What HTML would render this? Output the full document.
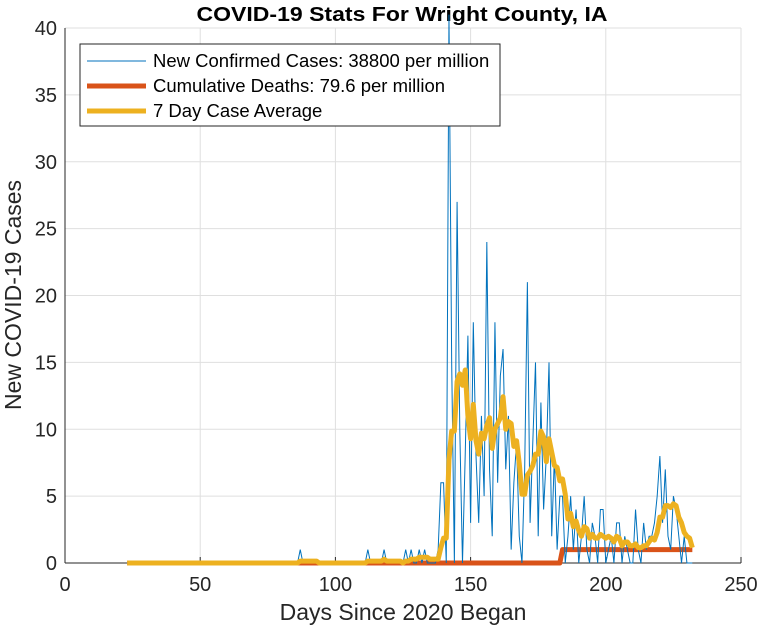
<!DOCTYPE html>
<html><head><meta charset="utf-8"><style>
body{margin:0;background:#fff;}
svg{display:block;font-family:"Liberation Sans",Arial,sans-serif;}
</style></head><body>
<svg id="chart" width="761" height="630">
<rect width="761" height="630" fill="#fff"/>
<text x="402" y="21" text-anchor="middle" font-size="20" font-weight="bold" fill="#000" textLength="411" lengthAdjust="spacingAndGlyphs">COVID-19 Stats For Wright County, IA</text>
<g id="grid"></g>
<g id="axes"></g>
<g id="series"></g>
<text x="403" y="620" text-anchor="middle" font-size="23" fill="#262626">Days Since 2020 Began</text>
<text transform="translate(21,295) rotate(-90)" text-anchor="middle" font-size="23" fill="#262626">New COVID-19 Cases</text>
<g>
<rect x="80" y="44" width="420" height="82" fill="#fff" stroke="#262626" stroke-width="1"/>
<g><line x1="87" y1="61" x2="146" y2="61" stroke="#0072BD" stroke-width="1"/><text x="153" y="67" font-size="18.5" fill="#000">New Confirmed Cases: 38800 per million</text></g>
<g><line x1="87" y1="86" x2="146" y2="86" stroke="#D95319" stroke-width="5"/><text x="153" y="92" font-size="18.5" fill="#000">Cumulative Deaths: 79.6 per million</text></g>
<g><line x1="87" y1="111" x2="146" y2="111" stroke="#EDB120" stroke-width="5"/><text x="153" y="117" font-size="18.5" fill="#000">7 Day Case Average</text></g>
</g>
</svg>
<script>
const startDay = 23;
const cases = [
0,0,0,0,0,0,0,0,0,0,0,0,0,0,0,0,0,0,0,0,0,0,0,0,0,0,0,0,0,0,0,0,0,0,0,0,0,0,0,0,
0,0,0,0,0,0,0,0,0,0,0,0,0,0,0,0,0,0,0,0,0,0,0,0,1,0,0,0,0,0,0,0,0,0,0,0,0,0,0,0,
0,0,0,0,0,0,0,0,0,1,0,0,0,0,0,1,0,0,0,0,0,0,0,1,0,1,0,0,1,0,1,0,0,0,0,
1,6,6,0,41,15,0,27,10,0,8,17,3,18,8,3,11,5,24,7,2,18,6,14,16,7,11,1,6,9,2,0,7,21,3,9,15,2,12,4,8,15,2,8,1,5,5,0,2,5,1,4,0,2,5,1,0,3,2,0,4,4,0,1,2,0,3,3,0,2,1,0,0,4,1,0,3,1,2,2,3,5,8,3,7,2,1,5,4,2,0,2,0,0,0];
const deathStepDay = 184;
const deathLevels = [0, 1];
const xTicks = [0,50,100,150,200,250];
const yTicks = [0,5,10,15,20,25,30,35,40];

const X0=65,X1=741,Y0=563,Y1=28;
const xs = d => X0 + (d-0)/(250-0)*(X1-X0);
const ys = v => Y0 - (v-0)/(40-0)*(Y0-Y1);
const NS="http://www.w3.org/2000/svg";
function mk(tag, attrs, parent){const e=document.createElementNS(NS,tag);for(const k in attrs)e.setAttribute(k,attrs[k]);parent.appendChild(e);return e;}
const grid=document.getElementById('grid'), axes=document.getElementById('axes'), ser=document.getElementById('series');
xTicks.forEach(t=>{
  const l=mk('line',{x1:xs(t),x2:xs(t),y1:Y1,y2:Y0,stroke:'#dfdfdf','stroke-width':1},grid);
  
  
  const tk=mk('line',{x1:xs(t),x2:xs(t),y1:Y0,y2:Y0-6,stroke:'#262626','stroke-width':1},axes);
  
  
  const tx=mk('text',{x:xs(t),y:Y0+28,'text-anchor':'middle','font-size':20,fill:'#262626'},axes);
  tx.textContent=t;
  
  
});
yTicks.forEach(t=>{
  const l=mk('line',{x1:X0,x2:X1,y1:ys(t),y2:ys(t),stroke:'#dfdfdf','stroke-width':1},grid);
  
  
  const tx=mk('text',{x:X0-8,y:ys(t)+7,'text-anchor':'end','font-size':20,fill:'#262626'},axes);
  tx.textContent=t;
  
  
});
const xa=mk('line',{x1:X0,x2:X1,y1:Y0,y2:Y0,stroke:'#262626','stroke-width':1},axes);


const ya=mk('line',{x1:X0,x2:X0,y1:Y1,y2:Y0,stroke:'#262626','stroke-width':1},axes);



let dp=[];
for(let i=0;i<cases.length;i++){const d=startDay+i;dp.push(xs(d)+','+ys(d<deathStepDay?deathLevels[0]:deathLevels[1]));}
const dl=mk('polyline',{points:dp.join(' '),fill:'none',stroke:'#D95319','stroke-width':5,'stroke-linejoin':'round'},ser);


const cl=mk('polyline',{points:cases.map((v,i)=>xs(startDay+i)+','+ys(v)).join(' '),fill:'none',stroke:'#0072BD','stroke-width':1},ser);


const avg=cases.map((v,i)=>{let s=0,n=0;for(let j=Math.max(0,i-6);j<=i;j++){s+=cases[j];n++;}return s/n;});
const al=mk('polyline',{points:avg.map((v,i)=>xs(startDay+i)+','+ys(v)).join(' '),fill:'none',stroke:'#EDB120','stroke-width':5,'stroke-linejoin':'round'},ser);


</script>
</body></html>
